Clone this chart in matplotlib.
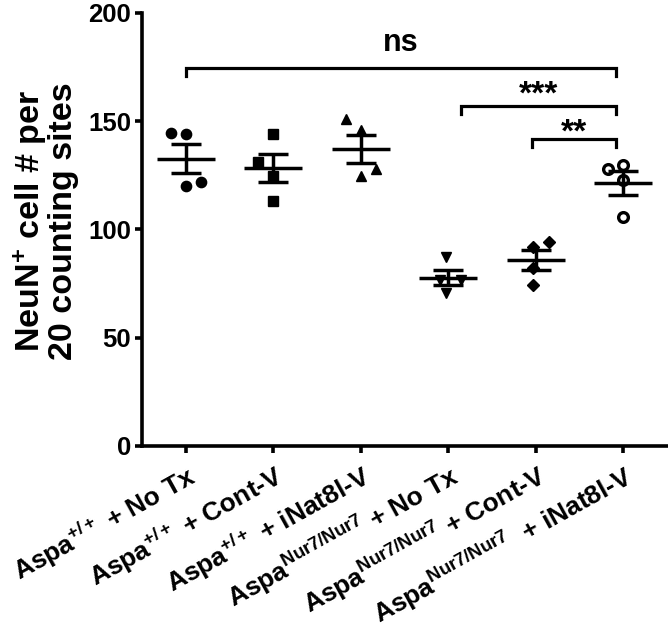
import numpy as np
import matplotlib
matplotlib.use("Agg")
import matplotlib.pyplot as plt

plt.rcParams['font.family'] = ['Liberation Sans', 'DejaVu Sans']
plt.rcParams['font.weight'] = 'bold'
plt.rcParams['mathtext.fontset'] = 'custom'
plt.rcParams['mathtext.rm'] = 'Liberation Sans:bold'
plt.rcParams['mathtext.bf'] = 'Liberation Sans:bold'
plt.rcParams['mathtext.it'] = 'Liberation Sans:bold'
plt.rcParams['mathtext.default'] = 'rm'

# ---- data ----
categories = [r'Aspa$^{+/+}$ + No Tx',
              r'Aspa$^{+/+}$ + Cont-V',
              r'Aspa$^{+/+}$ + iNat8l-V',
              r'Aspa$^{Nur7/Nur7}$ + No Tx',
              r'Aspa$^{Nur7/Nur7}$ + Cont-V',
              r'Aspa$^{Nur7/Nur7}$  + iNat8l-V']
g1 = [144.7, 144.3, 120.1, 121.9]
g2 = [144.1, 131.3, 124.7, 113.2]
g3 = [150.9, 146.0, 124.7, 127.8]
g4 = [87.4, 70.5, 76.7, 76.5]
g5 = [94.4, 92.1, 82.1, 74.4]
g6 = [127.8, 129.8, 122.9, 105.6]
groups = [g1, g2, g3, g4, g5, g6]
yticks = [0, 50, 100, 150, 200]
ylabel = 'NeuN$^{+}$ cell # per\n20 counting sites'
comparisons = [(0, 5, 'ns'), (3, 5, '***'), (4, 5, '**')]

# ---- style / layout ----
jitter = [[-0.17, 0.0, 0.0, 0.17],
          [0.0, -0.17, 0.0, 0.0],
          [-0.17, 0.0, 0.0, 0.17],
          [-0.03, -0.03, 0.15, -0.1],
          [0.15, -0.03, -0.03, -0.03],
          [-0.17, 0.0, 0.0, 0.0]]
markers = ['o', 's', '^', 'v', 'D', 'o']
msizes = [7.4, 7.0, 7.6, 7.6, 6.5, 7.0]
filled = [True, True, True, True, True, False]
bracket_y = [174.5, 157.0, 141.8]
bracket_x = [(0.0, 4.92), (3.14, 4.92), (3.96, 4.92)]
text_fs = [22, 24, 24]
text_dy = [8.0, 1.0, -1.0]

fig = plt.figure(figsize=(6.68, 6.31), dpi=100)
ax = fig.add_axes([0.2126, 0.2932, 0.7860, 0.6862])
lw = 2.5

for i, vals in enumerate(groups):
    v = np.array(vals)
    xs = i + np.array(jitter[i])
    if filled[i]:
        ax.plot(xs, v, linestyle='none', marker=markers[i], ms=msizes[i],
                color='black', zorder=3)
    else:
        ax.plot(xs, v, linestyle='none', marker=markers[i], ms=msizes[i],
                markerfacecolor='white', markeredgecolor='black', mew=2.4, zorder=3)
    m = v.mean()
    sem = v.std(ddof=1) / np.sqrt(len(v))
    ax.hlines(m, i - 0.33, i + 0.33, color='black', lw=lw, zorder=4)
    ax.vlines(i, m - sem, m + sem, color='black', lw=lw, zorder=4)
    ax.hlines([m - sem, m + sem], i - 0.17, i + 0.17, color='black', lw=lw, zorder=4)

for (a, b, txt), by, (x0, x1), fs, dy in zip(comparisons, bracket_y, bracket_x, text_fs, text_dy):
    ax.plot([x0, x0, x1, x1], [by - 3.5, by, by, by - 3.5], color='black', lw=2.3,
            solid_joinstyle='miter', clip_on=False)
    ax.text((x0 + x1) / 2, by + dy, txt, ha='center', va='baseline', fontsize=fs,
            fontweight='bold')

ax.set_xlim(-0.5, 5.5)
ax.set_ylim(0, 200)
ax.set_yticks(yticks)
ax.set_yticklabels([str(t) for t in yticks], fontsize=18.5, fontweight='bold')
ax.set_xticks(range(len(categories)))
ax.set_xticklabels(categories, rotation=29, ha='right', rotation_mode='anchor',
                   fontsize=19, fontweight='bold')
ax.spines['top'].set_visible(False)
ax.spines['right'].set_visible(False)
ax.spines['left'].set_linewidth(2.6)
ax.spines['bottom'].set_linewidth(2.6)
ax.tick_params(axis='y', width=2.6, length=5, pad=3)
ax.tick_params(axis='x', width=2.6, length=5, pad=5)
fig.text(45 / 668, 1 - 221 / 631, ylabel, rotation=90, ha='center', va='center',
         fontsize=24.5, fontweight='bold', linespacing=0.95)

fig.savefig('out.png', dpi=100)
